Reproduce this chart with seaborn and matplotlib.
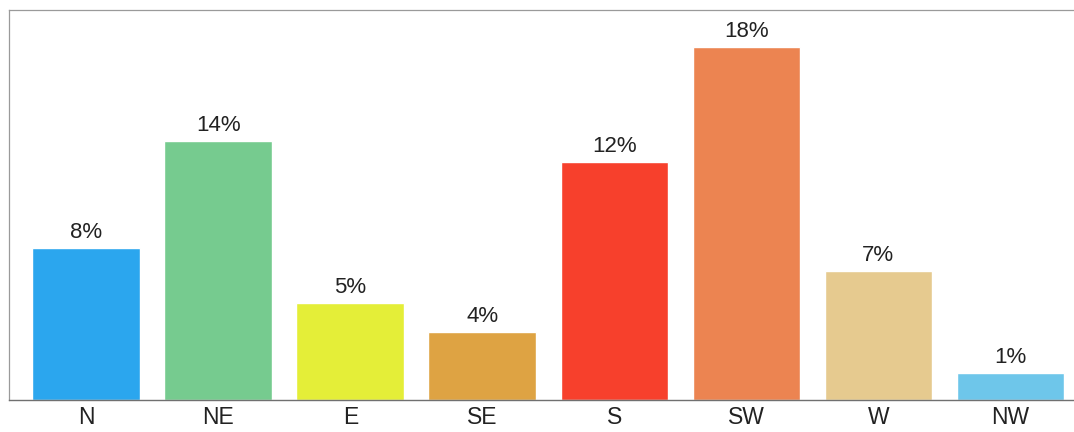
"""Wind direction frequency bar chart."""

import matplotlib.pyplot as plt
import pandas as pd
import seaborn as sns

directions = ["N", "NE", "E", "SE", "S", "SW", "W", "NW"]
frequency = [7.8, 13.3, 5.0, 3.5, 12.2, 18.1, 6.6, 1.4]
value_labels = ["8%", "14%", "5%", "4%", "12%", "18%", "7%", "1%"]
bar_colors = ["#2ba6ee", "#76cb8f", "#e4ee38", "#dea343", "#f7402c",
              "#ec8451", "#e6ca8f", "#6ec6ea"]


def main() -> None:
    sns.set_theme(style="white")
    plt.rcParams["font.family"] = ["Liberation Sans", "DejaVu Sans"]

    df = pd.DataFrame({"direction": directions, "frequency": frequency})

    fig = plt.figure(figsize=(10.74, 4.32), dpi=100)
    ax = fig.add_axes([9 / 1074, 32 / 432, 1070 / 1074, 390 / 432])
    sns.barplot(
        data=df,
        x="direction",
        y="frequency",
        hue="direction",
        palette=bar_colors,
        width=0.815,
        legend=False,
        saturation=1,
        ax=ax,
    )
    ax.set_xlim(-0.585, 7.52)
    ax.set_ylim(0, 20)
    ax.set_xlabel("")
    ax.set_ylabel("")
    ax.set_yticks([])
    ax.tick_params(axis="x", length=0, pad=4, labelsize=16.5, colors="#222222")

    for i, (v, lab) in enumerate(zip(frequency, value_labels)):
        ax.annotate(lab, (i, v), xytext=(0, 3.5), textcoords="offset points",
                    ha="center", va="bottom", fontsize=16, color="#222222")

    for side in ["left", "top"]:
        ax.spines[side].set_color("#9a9a9a")
        ax.spines[side].set_linewidth(0.9)
    ax.spines["bottom"].set_color("#707070")
    ax.spines["bottom"].set_linewidth(1.0)
    ax.spines["right"].set_visible(False)

    fig.savefig("out.png", dpi=100)
    plt.close(fig)


if __name__ == "__main__":
    main()
